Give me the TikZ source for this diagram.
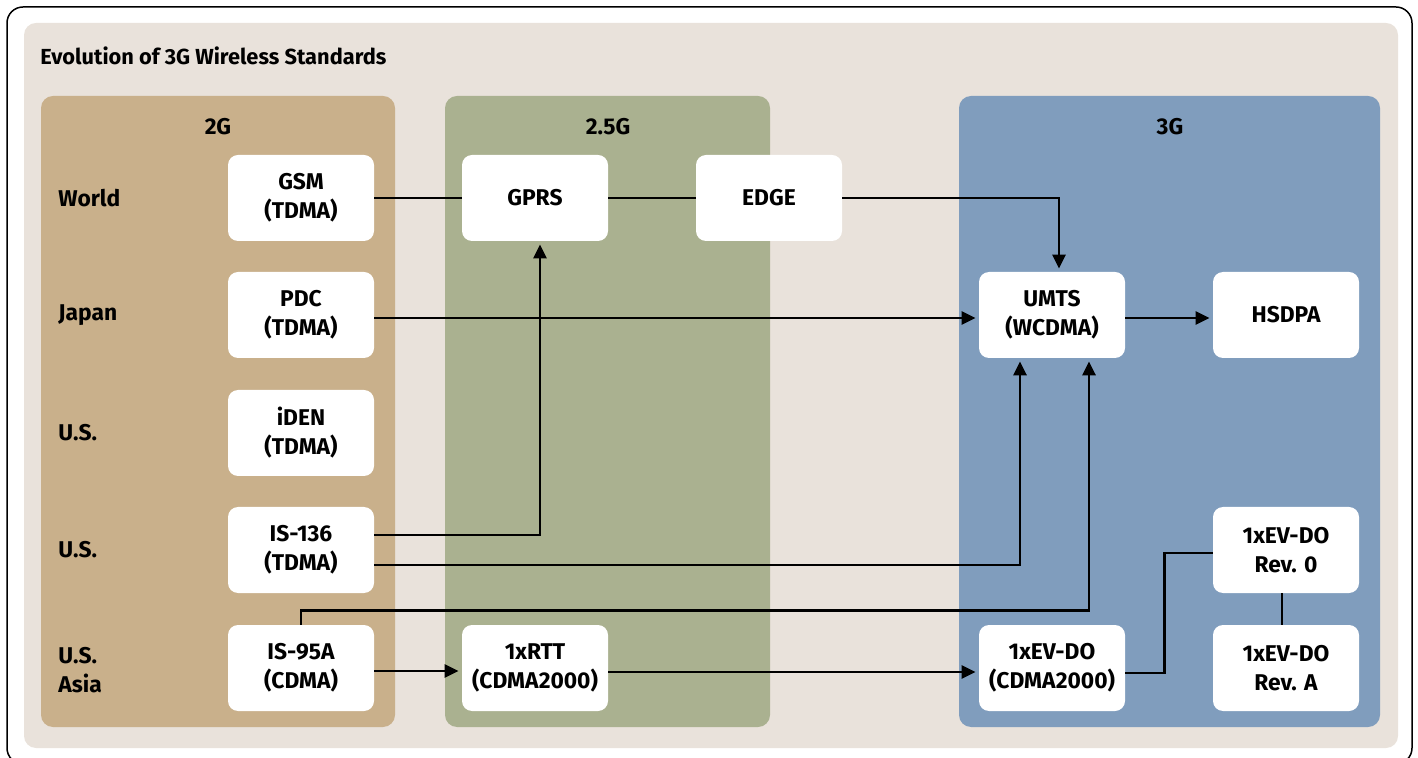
\documentclass[tikz,border=0pt]{standalone}
\usepackage{fontspec}
\setmainfont{Fira Sans}
\usepackage{xcolor}
\usepackage{tikz}
\usetikzlibrary{arrows.meta, positioning}
\definecolor{panelbeige}{RGB}{233,226,219}
\definecolor{gentwo}{RGB}{201,176,139}
\definecolor{gentwohalf}{RGB}{170,177,144}
\definecolor{genthree}{RGB}{128,157,189}
\tikzset{
  stdbox/.style={rectangle, fill=white, rounded corners=5pt,
                 minimum width=73pt, minimum height=43pt, inner sep=0pt,
                 align=center, font=\fontsize{11.4}{14.5}\selectfont\bfseries},
  rowlbl/.style={anchor=west, inner sep=0pt, align=left,
                 font=\fontsize{11.4}{14.5}\selectfont\bfseries},
  genlbl/.style={inner sep=0pt, font=\fontsize{11.4}{14.5}\selectfont\bfseries},
  link/.style={line width=1.45pt, color=black},
  arr/.style={link, -{Triangle[length=7pt, width=6.5pt]}, shorten >=1.5pt}
}

\begin{document}
\begin{tikzpicture}[x=0.5pt, y=-0.5pt]
  \useasboundingbox (0,0) rectangle (1418,758);

  % Frame and panels
  \draw[line width=0.75pt, rounded corners=8pt] (7,7) rectangle (1412,764);
  \fill[panelbeige, rounded corners=6pt] (24,23) rectangle (1398,748);
  \fill[gentwo, rounded corners=6pt] (41,96) rectangle (395,727);
  \fill[gentwohalf, rounded corners=6pt] (445,96) rectangle (770,727);
  \fill[genthree, rounded corners=6pt] (959,96) rectangle (1380,727);

  \node[rowlbl, font=\fontsize{10.9}{14.5}\selectfont\bfseries] (title) at (40,56) {Evolution of 3G Wireless Standards};

  % Generation headers
  \node[genlbl] (g2)  at (218,127)  {2G};
  \node[genlbl] (g25) at (608,127)  {2.5G};
  \node[genlbl] (g3)  at (1170,127) {3G};

  % Region labels
  \node[rowlbl] (rworld) at (58,198) {World};
  \node[rowlbl] (rjapan) at (58,315) {Japan};
  \node[rowlbl] (rusa)   at (58,433) {U.S.};
  \node[rowlbl] (rusb)   at (58,550) {U.S.};
  \node[rowlbl] (rusc)   at (58,670) {U.S.\\Asia};

  % Nodes
  \node[stdbox] (gsm)   at (301,198)  {GSM\\(TDMA)};
  \node[stdbox] (pdc)   at (301,315)  {PDC\\(TDMA)};
  \node[stdbox] (iden)  at (301,433)  {iDEN\\(TDMA)};
  \node[stdbox] (is136) at (301,550)  {IS-136\\(TDMA)};
  \node[stdbox] (is95)  at (301,668)  {IS-95A\\(CDMA)};
  \node[stdbox] (gprs)  at (535,198)  {GPRS};
  \node[stdbox] (edge)  at (769,198)  {EDGE};
  \node[stdbox] (rtt)   at (535,668)  {1xRTT\\(CDMA2000)};
  \node[stdbox] (umts)  at (1052,315) {UMTS\\(WCDMA)};
  \node[stdbox] (hsdpa) at (1286,315) {HSDPA};
  \node[stdbox] (evz)   at (1286,550) {1xEV-DO\\Rev. 0};
  \node[stdbox] (evdo)  at (1052,668) {1xEV-DO\\(CDMA2000)};
  \node[stdbox] (eva)   at (1286,668) {1xEV-DO\\Rev. A};

  % Connectors
  \draw[link] (gsm) -- (gprs);
  \draw[link] (gprs) -- (edge);
  \draw[arr] (edge.east) -| ([xshift=3.5pt]umts.north);
  \draw[arr] ([yshift=-1.5pt]pdc.east) -- ([yshift=-1.5pt]umts.west);
  \draw[arr] ([yshift=-1.5pt]umts.east) -- ([yshift=-1.5pt]hsdpa.west);
  \draw[arr] ([yshift=7.5pt]is136.east) -| ([xshift=2.5pt]gprs.south);
  \draw[arr] ([yshift=-7.5pt]is136.east) -| ([xshift=-16pt]umts.south);
  \draw[arr] (is95.north) |- ++(0,-14) -| ([xshift=18.5pt]umts.south);
  \draw[arr] ([yshift=-1.5pt]is95.east) -- ([yshift=-1.5pt]rtt.west);
  \draw[arr] ([yshift=-2pt]rtt.east) -- ([yshift=-2pt]evdo.west);
  \draw[link] ([yshift=-2.5pt]evdo.east) -- ++(39,0) |- ([yshift=-1.5pt]evz.west);
  \draw[link] ([xshift=-2pt]evz.south) -- ([xshift=-2pt]eva.north);

\end{tikzpicture}
\end{document}
